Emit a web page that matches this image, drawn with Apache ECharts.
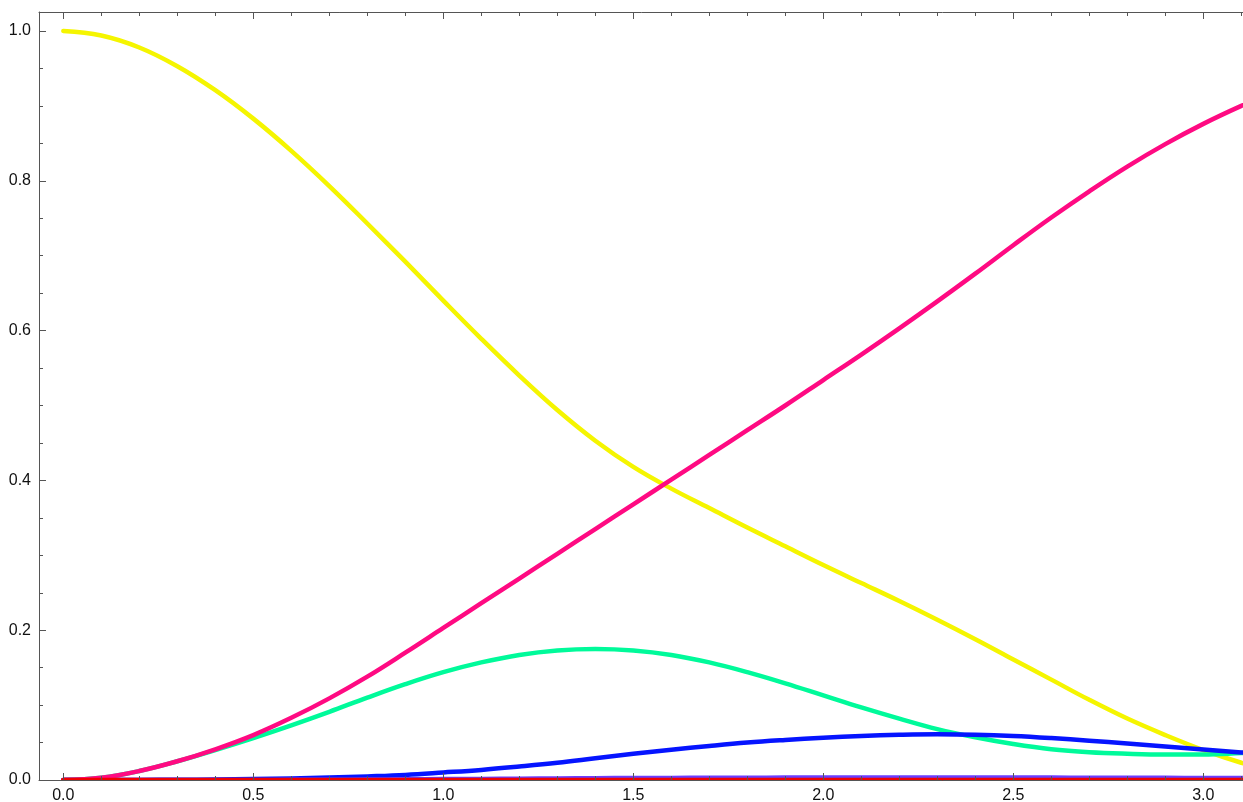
<!DOCTYPE html>
<html>
<head>
<meta charset="utf-8">
<script src="https://cdn.jsdelivr.net/npm/echarts@6/dist/echarts.min.js"></script>
<style>
html,body{margin:0;padding:0;background:#fff;}
#chart{width:1243px;height:802px;}
</style>
</head>
<body>
<div id="chart"></div>
<script>
// ---- data ----
const xs = [0,0.1,0.2,0.3,0.4,0.5,0.6,0.7,0.8,0.9,1.0,1.1,1.2,1.3,1.4,1.5,1.6,1.7,1.8,1.9,2.0,2.1,2.2,2.3,2.4,2.5,2.6,2.7,2.8,2.9,3.0,3.1,3.14];
const yellowVals = [1.000,0.994,0.978,0.953,0.921,0.883,0.840,0.793,0.743,0.692,0.640,0.589,0.540,0.494,0.453,0.418,0.389,0.363,0.337,0.312,0.287,0.263,0.239,0.214,0.188,0.161,0.134,0.107,0.082,0.060,0.040,0.023,0.018];
const greenVals  = [0,0.003,0.012,0.025,0.040,0.056,0.073,0.091,0.110,0.128,0.144,0.157,0.167,0.173,0.175,0.173,0.167,0.157,0.144,0.129,0.113,0.097,0.082,0.068,0.057,0.048,0.041,0.037,0.035,0.034,0.034,0.036,0.037];
const blueVals   = [0,0,0.0001,0.0003,0.0007,0.0012,0.0020,0.0032,0.0048,0.0068,0.0100,0.0135,0.0180,0.0230,0.0290,0.0350,0.0405,0.0455,0.0500,0.0535,0.0565,0.0588,0.0603,0.0610,0.0605,0.0588,0.0560,0.0525,0.0487,0.0448,0.0408,0.0368,0.0352];
const violetVals = [0,0,0,0,0,0,0.0002,0.0004,0.0006,0.0009,0.0012,0.0015,0.0018,0.0021,0.0024,0.0026,0.0028,0.0030,0.0031,0.0032,0.0033,0.0033,0.0033,0.0033,0.0033,0.0033,0.0032,0.0031,0.0030,0.0029,0.0028,0.0028,0.0028];
const pinkVals   = [0,0.003,0.012,0.025,0.041,0.060,0.083,0.109,0.138,0.170,0.203,0.236,0.269,0.302,0.335,0.368,0.401,0.434,0.467,0.500,0.534,0.568,0.603,0.639,0.676,0.714,0.751,0.786,0.819,0.849,0.876,0.900,0.908];
const redVals    = [0,0,0,0,0,0,0,0,0,0,0,0,0,0,0,0,0,0,0,0,0,0,0,0,0,0,0,0,0,0,0,0,0];

const seriesDefs = [
  {name:'yellow', vals:yellowVals, color:'#f5f500'},
  {name:'green',  vals:greenVals,  color:'#00fa9a'},
  {name:'blue',   vals:blueVals,   color:'#0514ff'},
  {name:'violet', vals:violetVals, color:'#6a3dff'},
  {name:'pink',   vals:pinkVals,   color:'#ff0a82'},
  {name:'red',    vals:redVals,    color:'#f00000'}
];

// ---- layout ----
const W = 1243, H = 802;
const pxPerX = 380, x0px = 63.3;      // pixel of x = 0
const pxPerY = 749, y0px = 780;       // pixel of y = 0
const frameLeft = 39, frameTop = 12;
const xMinA = -(x0px - frameLeft) / pxPerX;
const xMaxA = 3.2044;
const yMaxA = (y0px - frameTop) / pxPerY;
const rightA = W - (x0px + xMaxA * pxPerX);
const xMaxB = 3.5;
const rightB = W - (x0px + xMaxB * pxPerX);
const yMaxC = 1.2;
const topC = y0px - yMaxC * pxPerY;

const lineCol = '#555';
const labelStyle = {color:'#111', fontSize:16, fontFamily:'"Liberation Sans", Arial, sans-serif'};

const chart = echarts.init(document.getElementById('chart'), null, {renderer:'canvas'});
const option = {
  animation:false,
  backgroundColor:'#fff',
  grid:[
    {left:frameLeft, right:rightA, top:frameTop, bottom:H - y0px, outerBoundsMode:'none', containLabel:false},
    {left:x0px, right:rightB, top:frameTop, bottom:H - y0px, outerBoundsMode:'none', containLabel:false},
    {left:frameLeft, right:rightA, top:topC, bottom:H - y0px, outerBoundsMode:'none', containLabel:false}
  ],
  xAxis:[
    {type:'value', gridIndex:0, min:xMinA, max:xMaxA, position:'bottom', z:10,
     axisLine:{show:true, onZero:false, lineStyle:{color:lineCol, width:1}},
     axisTick:{show:false}, axisLabel:{show:false}, splitLine:{show:false}},
    {type:'value', gridIndex:0, min:xMinA, max:xMaxA, position:'top', z:10,
     axisLine:{show:true, onZero:false, lineStyle:{color:lineCol, width:1}},
     axisTick:{show:false}, axisLabel:{show:false}, splitLine:{show:false}},
    {type:'value', gridIndex:1, min:0, max:xMaxB, interval:0.5, position:'bottom', z:11,
     axisLine:{show:false, onZero:false},
     axisTick:{show:true, inside:true, length:7, lineStyle:{color:lineCol}},
     minorTick:{show:true, splitNumber:5, length:4, lineStyle:{color:lineCol}},
     axisLabel:{show:true, margin:8, formatter:v=>v.toFixed(1), ...labelStyle},
     splitLine:{show:false}},
    {type:'value', gridIndex:1, min:0, max:xMaxB, interval:0.5, position:'top', z:11,
     axisLine:{show:false, onZero:false},
     axisTick:{show:true, inside:true, length:7, lineStyle:{color:lineCol}},
     minorTick:{show:true, splitNumber:5, length:4, lineStyle:{color:lineCol}},
     axisLabel:{show:false}, splitLine:{show:false}},
    {type:'value', gridIndex:2, min:xMinA, max:xMaxA, show:false}
  ],
  yAxis:[
    {type:'value', gridIndex:0, min:0, max:yMaxA, position:'left', z:10,
     axisLine:{show:true, onZero:false, lineStyle:{color:lineCol, width:1}},
     axisTick:{show:false}, axisLabel:{show:false}, splitLine:{show:false}},
    {type:'value', gridIndex:1, min:0, max:yMaxA, show:false},
    {type:'value', gridIndex:2, min:0, max:yMaxC, interval:0.2, position:'left', z:11,
     axisLine:{show:false, onZero:false},
     axisTick:{show:true, inside:true, length:7, lineStyle:{color:lineCol}},
     minorTick:{show:true, splitNumber:4, length:4, lineStyle:{color:lineCol}},
     axisLabel:{show:true, margin:8, formatter:v=>v.toFixed(1), ...labelStyle},
     splitLine:{show:false}}
  ],
  graphic:[
    {type:'rect', z:5, zlevel:0, shape:{x:0, y:y0px + 1, width:W, height:4}, style:{fill:'#fff'}}
  ],
  series: seriesDefs.map(s => ({
    name:s.name, type:'line', xAxisIndex:0, yAxisIndex:0,
    data: xs.map((x,i)=>[x, s.vals[i]]),
    showSymbol:false, symbol:'none', smooth:0.4,
    lineStyle:{color:s.color, width:4.5, cap:'round', join:'round'},
    itemStyle:{color:s.color},
    z:2
  }))
};
chart.setOption(option);
</script>
</body>
</html>
